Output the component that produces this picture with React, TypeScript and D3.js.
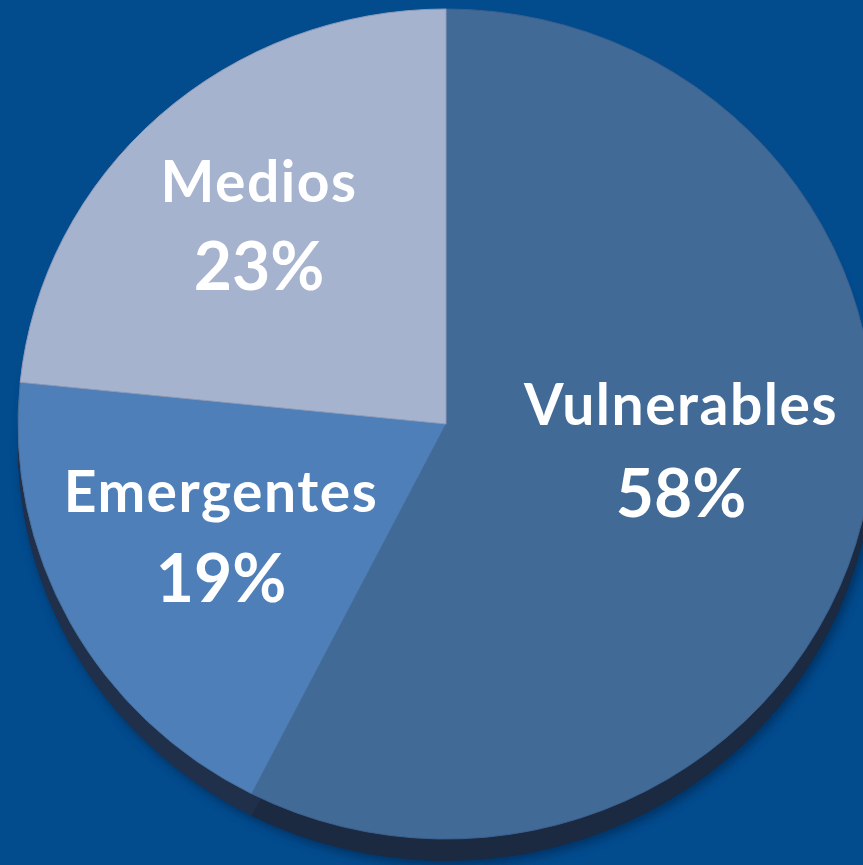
import React from "react";
import * as d3 from "d3";

const categories = ["Vulnerables", "Emergentes", "Medios"];
const values = [57.5, 19.1, 23.4];
const percentLabels = ["58%", "19%", "23%"];

const W = 863;
const H = 865;
const CX = 446;
const CY = 424;
const R = 420;
const RX = 428;
const RY = 415;
const DEPTH = 22;

const topColors = ["#426a96", "#4f7fb9", "#a6b3cf"];
const wallColors = ["#1b2a40", "#20304a", "#3b4860"];
const strokeColors = ["#3b6190", "#46719f", "#8e9cbb"];

const labelPos = [
  { x: 681, y1: 425, y2: 517 },
  { x: 221, y1: 512, y2: 602 },
  { x: 259, y1: 202, y2: 290 },
];

export default function App() {
  const pie = d3.pie<number>().sort(null).startAngle(0).endAngle(2 * Math.PI);
  const arcs = pie(values);
  const arcGen = d3.arc<d3.PieArcDatum<number>>().innerRadius(0).outerRadius(R);
  const sx = RX / R;
  const sy = RY / R;
  const offsets = d3.range(0, DEPTH + 1, 1);

  return (
    <svg
      width={W}
      height={H}
      style={{ position: "fixed", left: 0, top: 0, display: "block" }}
    >
      <defs>
        <filter id="shadow" x="-20%" y="-20%" width="140%" height="140%">
          <feGaussianBlur stdDeviation="5" />
        </filter>
      </defs>
      <rect x={0} y={0} width={W} height={H} fill="#024c8e" />
      {/* soft shadow */}
      <ellipse
        cx={CX + 3}
        cy={CY + DEPTH + 4}
        rx={RX + 1}
        ry={RY + 1}
        fill="#002e5e"
        opacity={0.8}
        filter="url(#shadow)"
      />
      {/* side wall */}
      {offsets.map((o) =>
        arcs.map((a, i) => (
          <path
            key={`w-${o}-${i}`}
            d={arcGen(a) || ""}
            transform={`translate(${CX},${CY + o}) scale(${sx},${sy})`}
            fill={wallColors[i]}
          />
        ))
      )}
      {/* top face */}
      {arcs.map((a, i) => (
        <path
          key={`t-${i}`}
          d={arcGen(a) || ""}
          transform={`translate(${CX},${CY}) scale(${sx},${sy})`}
          fill={topColors[i]}
          stroke={strokeColors[i]}
          strokeWidth={1}
          vectorEffect="non-scaling-stroke"
        />
      ))}
      {categories.map((c, i) => (
        <g key={`l-${i}`} fill="#ffffff" fontFamily="Lato, 'Open Sans', sans-serif" fontWeight={700} textAnchor="middle">
          <text x={labelPos[i].x} y={labelPos[i].y1} fontSize={57} letterSpacing={1.5}>
            {c}
          </text>
          <text x={labelPos[i].x} y={labelPos[i].y2} fontSize={66}>
            {percentLabels[i]}
          </text>
        </g>
      ))}
    </svg>
  );
}
